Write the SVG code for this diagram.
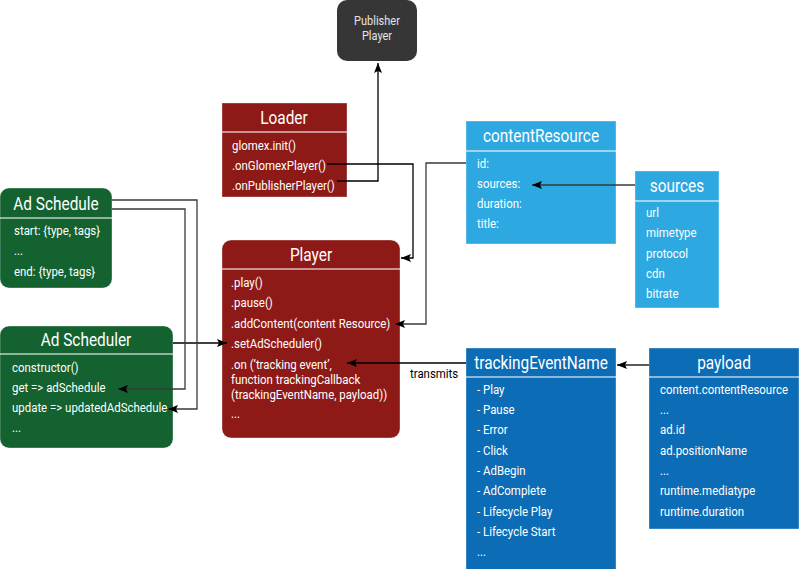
<svg xmlns="http://www.w3.org/2000/svg" width="800" height="569" viewBox="0 0 800 569">
<defs>
<marker id="ah" viewBox="0 0 10 10" refX="10" refY="5" markerWidth="10" markerHeight="10" markerUnits="userSpaceOnUse" orient="auto">
<path d="M0,1 L10,5 L0,9 L2,5 Z" fill="#000"/>
</marker>
<style>
text{font-family:Roboto,"Liberation Sans",sans-serif;fill:#fff}
.t{font-size:17.5px;text-anchor:middle}
.i{font-size:13px}
.box{stroke:#fff;stroke-opacity:0.35;stroke-width:1}
.div{stroke:#fff;stroke-opacity:0.7;stroke-width:1.5}
.red{fill:#8e1a17}
.grn{fill:#13622f}
.lb{fill:#2ea8e0}
.db{fill:#0c6cb5}
.c{fill:none;stroke:#000;stroke-width:1.3}
.g{stroke:#3a3a3a}
</style>
</defs>
<rect width="800" height="569" fill="#fff"/>
<g id="publisher-player">
<rect x="337" y="0" width="80" height="61" rx="10" fill="#363636"/>
<g transform="translate(377,0) scale(0.88,1)">
<text x="0" y="25" style="font-size:12.5px;text-anchor:middle;fill:#e4e4e4">Publisher</text>
<text x="0" y="40" style="font-size:12.5px;text-anchor:middle;fill:#e4e4e4">Player</text>
</g>
</g>
<g id="loader">
<rect class="box red" x="222" y="103" width="125" height="94"/>
<line class="div" x1="222" y1="132" x2="347" y2="132"/>
<g transform="translate(284,0) scale(0.88,1)"><text class="t" x="0" y="124">Loader</text></g>
<g transform="translate(232,0) scale(0.88,1)">
<text class="i" x="0" y="150">glomex.init()</text>
<text class="i" x="0" y="170">.onGlomexPlayer()</text>
<text class="i" x="0" y="190">.onPublisherPlayer()</text>
</g>
</g>
<g id="ad-schedule">
<rect class="box grn" x="0" y="188" width="112" height="100" rx="9"/>
<line class="div" x1="0" y1="218" x2="112" y2="218"/>
<g transform="translate(56,0) scale(0.88,1)"><text class="t" x="0" y="210">Ad Schedule</text></g>
<g transform="translate(14,0) scale(0.88,1)">
<text class="i" x="0" y="235">start: {type, tags}</text>
<text class="i" x="0" y="255">...</text>
<text class="i" x="0" y="276">end: {type, tags}</text>
</g>
</g>
<g id="ad-scheduler">
<rect class="box grn" x="0" y="326" width="173" height="122" rx="9"/>
<line class="div" x1="0" y1="354" x2="173" y2="354"/>
<g transform="translate(86,0) scale(0.88,1)"><text class="t" x="0" y="346">Ad Scheduler</text></g>
<g transform="translate(12,0) scale(0.88,1)">
<text class="i" x="0" y="372">constructor()</text>
<text class="i" x="0" y="392">get =&gt; adSchedule</text>
<text class="i" x="0" y="412">update =&gt; updatedAdSchedule</text>
<text class="i" x="0" y="432">...</text>
</g>
</g>
<g id="player">
<rect class="box red" x="222" y="240" width="178" height="198" rx="9"/>
<line class="div" x1="222" y1="269" x2="400" y2="269"/>
<g transform="translate(311,0) scale(0.88,1)"><text class="t" x="0" y="261">Player</text></g>
<g transform="translate(231,0) scale(0.88,1)">
<text class="i" x="0" y="287">.play()</text>
<text class="i" x="0" y="307">.pause()</text>
<text class="i" x="0" y="328">.addContent(content Resource)</text>
<text class="i" x="0" y="348">.setAdScheduler()</text>
<text class="i" x="0" y="369">.on (‘tracking event’,</text>
<text class="i" x="0" y="384">function trackingCallback</text>
<text class="i" x="0" y="399">(trackingEventName, payload))</text>
<text class="i" x="0" y="418">...</text>
</g>
</g>
<g id="content-resource">
<rect class="box lb" x="466" y="121" width="150" height="123"/>
<line class="div" x1="466" y1="151" x2="616" y2="151"/>
<g transform="translate(541,0) scale(0.88,1)"><text class="t" x="0" y="142">contentResource</text></g>
<g transform="translate(477,0) scale(0.88,1)">
<text class="i" x="0" y="168">id:</text>
<text class="i" x="0" y="188">sources:</text>
<text class="i" x="0" y="208">duration:</text>
<text class="i" x="0" y="228">title:</text>
</g>
</g>
<g id="sources">
<rect class="box lb" x="635" y="171" width="84" height="137"/>
<line class="div" x1="635" y1="201" x2="719" y2="201"/>
<g transform="translate(677,0) scale(0.88,1)"><text class="t" x="0" y="192">sources</text></g>
<g transform="translate(646,0) scale(0.88,1)">
<text class="i" x="0" y="217">url</text>
<text class="i" x="0" y="237">mimetype</text>
<text class="i" x="0" y="258">protocol</text>
<text class="i" x="0" y="278">cdn</text>
<text class="i" x="0" y="298">bitrate</text>
</g>
</g>
<g id="tracking-event-name">
<rect class="box db" x="466" y="348" width="150" height="225"/>
<line class="div" x1="466" y1="377" x2="616" y2="377"/>
<g transform="translate(541,0) scale(0.88,1)"><text class="t" x="0" y="369">trackingEventName</text></g>
<g transform="translate(477,0) scale(0.88,1)">
<text class="i" x="0" y="394">- Play</text>
<text class="i" x="0" y="414">- Pause</text>
<text class="i" x="0" y="434">- Error</text>
<text class="i" x="0" y="455">- Click</text>
<text class="i" x="0" y="475">- AdBegin</text>
<text class="i" x="0" y="495">- AdComplete</text>
<text class="i" x="0" y="516">- Lifecycle Play</text>
<text class="i" x="0" y="536">- Lifecycle Start</text>
<text class="i" x="0" y="556">...</text>
</g>
</g>
<g id="payload">
<rect class="box db" x="649" y="348" width="150" height="181"/>
<line class="div" x1="649" y1="377" x2="799" y2="377"/>
<g transform="translate(724,0) scale(0.88,1)"><text class="t" x="0" y="369">payload</text></g>
<g transform="translate(660,0) scale(0.88,1)">
<text class="i" x="0" y="394">content.contentResource</text>
<text class="i" x="0" y="414">...</text>
<text class="i" x="0" y="434">ad.id</text>
<text class="i" x="0" y="455">ad.positionName</text>
<text class="i" x="0" y="475">...</text>
<text class="i" x="0" y="495">runtime.mediatype</text>
<text class="i" x="0" y="516">runtime.duration</text>
</g>
</g>
<g id="connectors">
<path class="c" d="M337,181 H378 V63" marker-end="url(#ah)"/>
<path class="c" d="M327,164 H413 V258 H401" marker-end="url(#ah)"/>
<path class="c g" d="M466,163 H426 V324 H395" marker-end="url(#ah)"/>
<path class="c g" d="M635,185 H532" marker-end="url(#ah)"/>
<path class="c" d="M649,365 H617" marker-end="url(#ah)"/>
<path class="c" d="M466,363 H347" marker-end="url(#ah)"/>
<path class="c" d="M173,343 H227" marker-end="url(#ah)"/>
<path class="c g" d="M112,200 H197 V409 H168" marker-end="url(#ah)"/>
<path class="c g" d="M112,209 H185 V389 H118" marker-end="url(#ah)"/>
<g transform="translate(410,0) scale(0.88,1)"><text x="0" y="378" style="font-size:13px;fill:#000">transmits</text></g>
</g>
</svg>
